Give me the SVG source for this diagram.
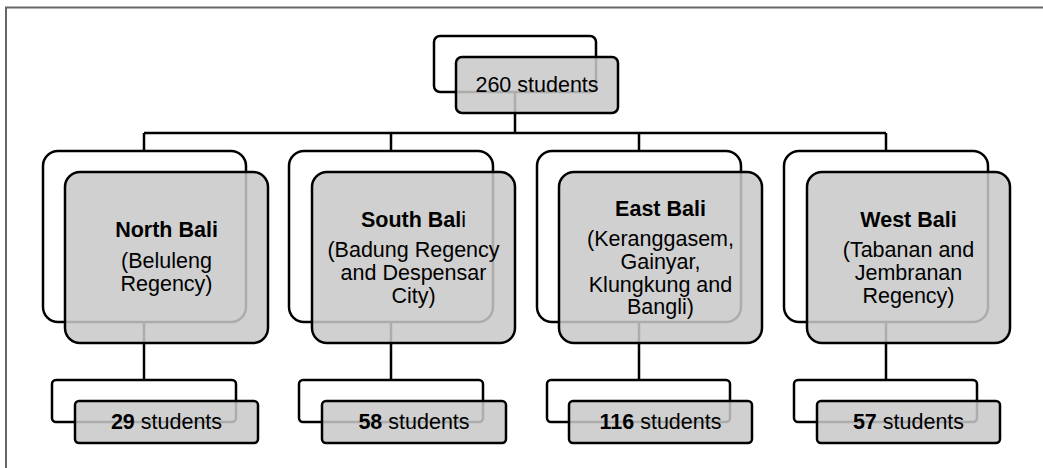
<svg xmlns="http://www.w3.org/2000/svg" width="1043" height="468" viewBox="0 0 1043 468">
<style>
.bk{fill:#fff;stroke:#000;stroke-width:2.5}
.fr{fill:#c8c8c8;fill-opacity:0.86;stroke:#000;stroke-width:2.5}
.ln{stroke:#000;stroke-width:2.5;fill:none}
text{font-family:"Liberation Sans",Arial,sans-serif;font-size:21.5px;fill:#000;text-anchor:middle}
.b{font-weight:bold}
</style>
<rect width="1043" height="468" fill="#fff"/>
<path d="M6,468 V7.5 H1043" fill="none" stroke="#666" stroke-width="2"/>
<g id="back-boxes">
<rect class="bk" x="434" y="36" width="162" height="56" rx="6"/>
<rect class="bk" x="43" y="151" width="203" height="171" rx="15"/>
<rect class="bk" x="289" y="151" width="204" height="171" rx="15"/>
<rect class="bk" x="537" y="151" width="204" height="171" rx="15"/>
<rect class="bk" x="784" y="151" width="204" height="171" rx="15"/>
<rect class="bk" x="52" y="380" width="184" height="42" rx="4"/>
<rect class="bk" x="299" y="380" width="184" height="42" rx="4"/>
<rect class="bk" x="547" y="380" width="183" height="42" rx="4"/>
<rect class="bk" x="794" y="380" width="183" height="42" rx="4"/>
</g>
<g id="connectors">
<path class="ln" d="M515,92 V133 M144,133 H886 M144,133 V151 M391,133 V151 M639,133 V151 M886,133 V151"/>
<path class="ln" d="M144,322 V380 M391,322 V380 M639,322 V380 M886,322 V380"/>
</g>
<g id="root">
<rect class="fr" x="456" y="57" width="162" height="56" rx="6"/>
<text x="537" y="92">260 students</text>
</g>
<g id="north">
<rect class="fr" x="65" y="172" width="203" height="171" rx="15"/>
<text x="166.5" y="237" class="b">North Bali</text>
<text x="166.5" y="268">(Beluleng</text>
<text x="166.5" y="291">Regency)</text>
</g>
<g id="south">
<rect class="fr" x="312" y="172" width="203" height="171" rx="15"/>
<text x="413.5" y="227"><tspan class="b">South Bal</tspan>i</text>
<text x="413.5" y="257">(Badung Regency</text>
<text x="413.5" y="280">and Despensar</text>
<text x="413.5" y="303">City)</text>
</g>
<g id="east">
<rect class="fr" x="559" y="172" width="203" height="171" rx="15"/>
<text x="660.5" y="216" class="b">East Bali</text>
<text x="660.5" y="246">(Keranggasem,</text>
<text x="660.5" y="269">Gainyar,</text>
<text x="660.5" y="292">Klungkung and</text>
<text x="660.5" y="314">Bangli)</text>
</g>
<g id="west">
<rect class="fr" x="807" y="172" width="203" height="171" rx="15"/>
<text x="908.5" y="227" class="b">West Bali</text>
<text x="908.5" y="257">(Tabanan and</text>
<text x="908.5" y="280">Jembranan</text>
<text x="908.5" y="303">Regency)</text>
</g>
<g id="north-count">
<rect class="fr" x="75" y="401" width="183" height="42" rx="4"/>
<text x="166.5" y="429"><tspan class="b">29</tspan> students</text>
</g>
<g id="south-count">
<rect class="fr" x="322" y="401" width="184" height="42" rx="4"/>
<text x="414" y="429"><tspan class="b">58</tspan> students</text>
</g>
<g id="east-count">
<rect class="fr" x="569" y="401" width="183" height="42" rx="4"/>
<text x="660.5" y="429"><tspan class="b">116</tspan> students</text>
</g>
<g id="west-count">
<rect class="fr" x="817" y="401" width="183" height="42" rx="4"/>
<text x="908.5" y="429"><tspan class="b">57</tspan> students</text>
</g>
</svg>
